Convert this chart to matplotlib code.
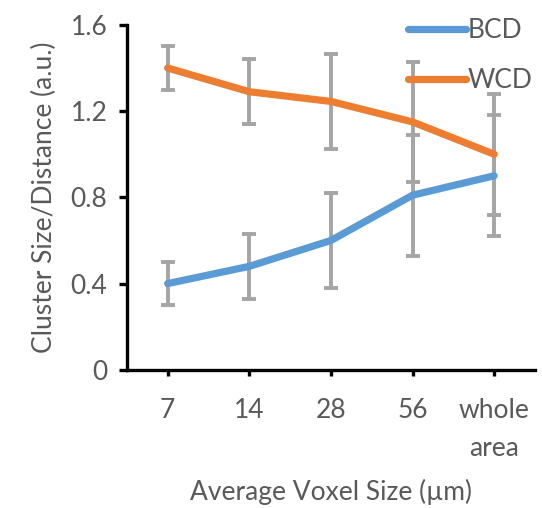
import numpy as np
import matplotlib
matplotlib.use("Agg")
import matplotlib.pyplot as plt

# data
categories = ["7", "14", "28", "56", "whole\narea"]
bcd = [0.40, 0.48, 0.60, 0.81, 0.90]
bcd_err = [0.10, 0.15, 0.22, 0.28, 0.28]
wcd = [1.40, 1.29, 1.245, 1.15, 1.00]
wcd_err = [0.10, 0.15, 0.22, 0.28, 0.28]

plt.rcParams['font.family'] = ['Lato', 'DejaVu Sans']
text_color = '#595959'
fs = 19

fig = plt.figure(figsize=(5.42, 5.08), dpi=100)
ax = fig.add_axes([0.234, 0.272, 0.753, 0.679])

x = np.arange(len(categories))

# error bars first, lines on top
for vals, errs in [(bcd, bcd_err), (wcd, wcd_err)]:
    ax.errorbar(x, vals, yerr=errs, fmt='none', ecolor='#A5A5A5',
                elinewidth=2.8, capsize=5, capthick=2.8, zorder=2)

ax.plot(x, bcd, color='#5B9BD5', lw=5.2, solid_capstyle='round',
        solid_joinstyle='round', label='BCD', zorder=3)
ax.plot(x, wcd, color='#ED7D31', lw=5.2, solid_capstyle='round',
        solid_joinstyle='round', label='WCD', zorder=3)

ax.set_xlim(-0.5, len(categories) - 0.5)
ax.set_ylim(0, 1.6)
ax.set_yticks([0, 0.4, 0.8, 1.2, 1.6])
ax.set_yticklabels(["0", "0.4", "0.8", "1.2", "1.6"])
ax.set_xticks(x)
ax.set_xticklabels(categories, va='top', ha='center', linespacing=1.65)

for side in ['top', 'right']:
    ax.spines[side].set_visible(False)
for side in ['left', 'bottom']:
    ax.spines[side].set_linewidth(2.4)
    ax.spines[side].set_color('black')

ax.tick_params(axis='y', direction='out', length=6, width=2.4,
               labelsize=fs, labelcolor=text_color, pad=8)
ax.tick_params(axis='x', direction='out', length=4, width=2.4,
               labelsize=fs, labelcolor=text_color, pad=16)

ax.set_xlabel("Average Voxel Size (\u00b5m)", fontsize=fs, color=text_color,
              labelpad=13)
ax.set_ylabel("Cluster Size/Distance (a.u.)", fontsize=fs, color=text_color,
              labelpad=10)

leg = ax.legend(loc='upper right', bbox_to_anchor=(1.02, 1.05), frameon=False,
                fontsize=fs, handlelength=2.2, handletextpad=0.05,
                labelspacing=0.95, borderaxespad=0)
for t in leg.get_texts():
    t.set_color(text_color)

fig.savefig("out.png", dpi=100)
